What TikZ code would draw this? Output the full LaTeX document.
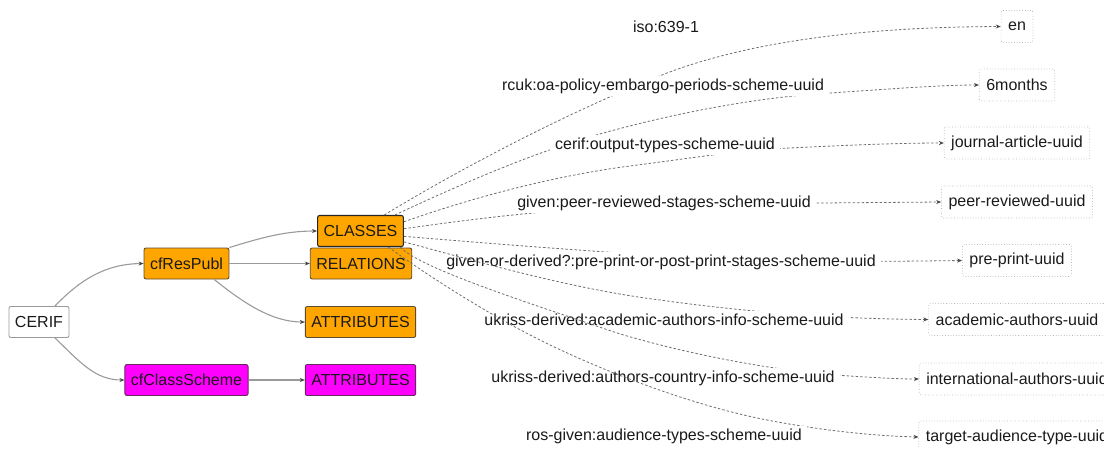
\documentclass[tikz,border=0pt]{standalone}
\usepackage{fontspec}
\setmainfont{Liberation Sans}
\usetikzlibrary{arrows.meta}
\definecolor{orangefill}{HTML}{FFA500}
\definecolor{orangeline}{HTML}{5E4C2E}
\definecolor{magfill}{HTML}{FF00FF}
\definecolor{magline}{HTML}{66285F}
\definecolor{edgegray}{HTML}{9A9A9A}
\definecolor{tipgray}{HTML}{444444}
\definecolor{dashgray}{HTML}{6E6E6E}
\definecolor{boxgray}{HTML}{B4B4B4}
\definecolor{txt}{HTML}{1A1A1A}
\begin{document}
\begin{tikzpicture}[x=1pt,y=-1pt,
  font=\fontsize{16}{19}\selectfont, text=txt,
  basebox/.style={rectangle, rounded corners=2pt, minimum height=31pt, inner xsep=6pt, inner ysep=0pt, line width=0.9pt},
  rootbox/.style={basebox, fill=white, draw=gray!80},
  orangebox/.style={basebox, fill=orangefill, draw=orangeline},
  magbox/.style={basebox, fill=magfill, draw=magline},
  valuebox/.style={rectangle, rounded corners=2pt, minimum height=32pt, inner xsep=7pt, inner ysep=0pt, draw=boxgray, dotted, line width=0.7pt},
  schemelabel/.style={rectangle, fill=white, inner xsep=5pt, inner ysep=3pt},
  solidlink/.style={draw=edgegray, line width=1.1pt, -{Stealth[length=5pt,width=4pt,color=tipgray]}},
  dashlink/.style={draw=dashgray, line width=0.8pt, dash pattern=on 2.5pt off 2pt, -{Stealth[length=5pt,width=4pt,color=tipgray]}}
]
\useasboundingbox (0,0) rectangle (1104,448);

% main hierarchy
\node[rootbox] (cerif) at (39,322) {CERIF};
\node[orangebox] (respubl) at (186.5,263.5) {cfResPubl};
\node[magbox] (classscheme) at (186.5,380) {cfClassScheme};
\node[orangebox, draw=black!85, line width=1.1pt] (classes) at (360.5,231) {CLASSES};
\node[orangebox] (relations) at (361,263.5) {RELATIONS};
\node[orangebox] (attrpubl) at (360.5,322) {ATTRIBUTES};
\node[magbox] (attrscheme) at (360.5,380) {ATTRIBUTES};

\draw[solidlink] (cerif.45) .. controls (80,280) and (105,264) .. (respubl.west);
\draw[solidlink] (cerif.-45) .. controls (80,362) and (95,380) .. (classscheme.west);
\draw[solidlink] (respubl.north east) .. controls (260,238) and (285,231) .. (classes.west);
\draw[solidlink] (respubl.east) -- (relations.west);
\draw[solidlink] (respubl.-30) .. controls (240,300) and (270,322) .. (attrpubl.west);
\draw[solidlink] (classscheme.east) -- (attrscheme.west);

% classification values
\node[valuebox] (en) at (1017,26.5) {en};
\node[valuebox] (months) at (1017,85) {6months};
\node[valuebox] (journal) at (1017,143) {journal-article-uuid};
\node[valuebox] (peer) at (1017,202) {peer-reviewed-uuid};
\node[valuebox] (preprint) at (1017,260.5) {pre-print-uuid};
\node[valuebox] (academic) at (1017,319.5) {academic-authors-uuid};
\node[valuebox] (international) at (1017,379) {international-authors-uuid};
\node[valuebox] (audience) at (1017,437) {target-audience-type-uuid};

% scheme links, each followed by its label
\draw[dashlink] (classes.34) .. controls (450,175) and (560,115) .. (667,73)
  .. controls (760,38) and (880,27) .. (en.west);
\node[schemelabel] (lbliso) at (666,27) {iso:639-1};

\draw[dashlink] (classes.25) .. controls (470,180) and (540,150) .. (607,132)
  .. controls (680,112) and (760,97) .. (830,93)
  .. controls (890,89) and (940,85) .. (months.west);
\node[schemelabel] (lblrcuk) at (663,86) {rcuk:oa-policy-embargo-periods-scheme-uuid};

\draw[dashlink] (classes.12) .. controls (480,195) and (560,175) .. (630,166)
  .. controls (700,157) and (740,150) .. (790,148)
  .. controls (850,145) and (900,143) .. (journal.west);
\node[schemelabel] (lblcerif) at (665,145) {cerif:output-types-scheme-uuid};

\draw[dashlink] (classes.3) .. controls (480,218) and (560,208) .. (650,206)
  .. controls (720,204) and (780,203) .. (820,203) -- (peer.west);
\node[schemelabel] (lblpeer) at (664,203) {given:peer-reviewed-stages-scheme-uuid};

\draw[dashlink] (classes.-7) .. controls (520,246) and (600,252) .. (700,258)
  .. controls (780,262) and (850,262) .. (preprint.west);
\node[schemelabel] (lblprint) at (661,262) {given-or-derived?:pre-print-or-post-print-stages-scheme-uuid};

\draw[dashlink] (classes.-14) .. controls (500,268) and (580,290) .. (660,300)
  .. controls (760,314) and (850,319) .. (academic.west);
\node[schemelabel] (lblacademic) at (664,320) {ukriss-derived:academic-authors-info-scheme-uuid};

\draw[dashlink] (classes.-22) .. controls (420,268) and (520,300) .. (617,333)
  .. controls (690,355) and (780,372) .. (850,376)
  .. controls (880,378) and (900,379) .. (international.west);
\node[schemelabel] (lblcountry) at (663,378) {ukriss-derived:authors-country-info-scheme-uuid};

\draw[dashlink] (classes.-30) .. controls (420,270) and (480,310) .. (540,340)
  .. controls (600,370) and (690,405) .. (767,420)
  .. controls (830,432) and (880,436) .. (audience.west);
\node[schemelabel] (lblaudience) at (664,436) {ros-given:audience-types-scheme-uuid};
\end{tikzpicture}
\end{document}
